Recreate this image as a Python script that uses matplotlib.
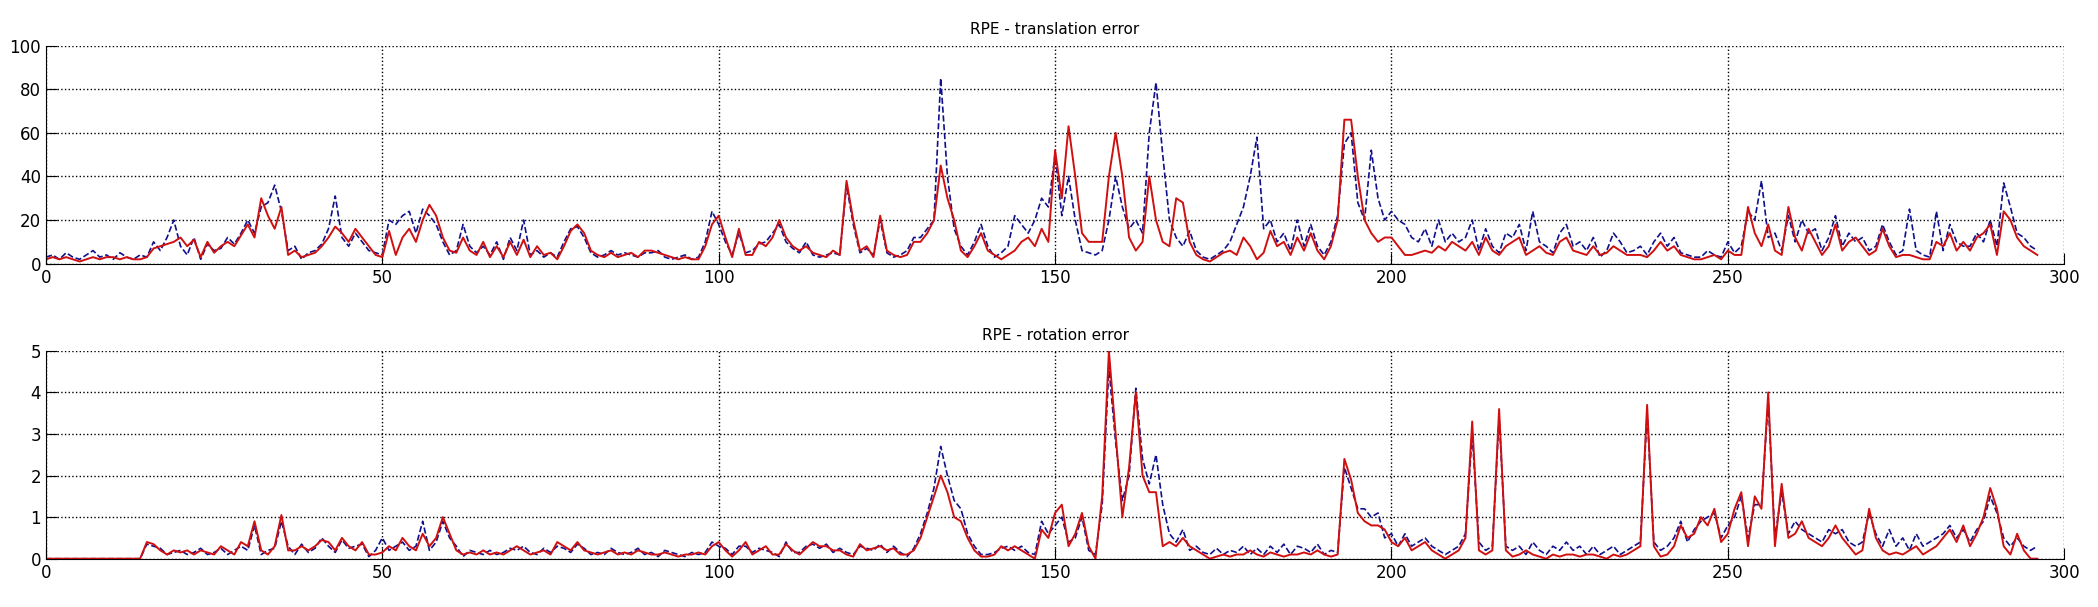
import matplotlib
matplotlib.use("Agg")
import matplotlib.pyplot as plt
import numpy as np

frames = list(range(297))

trans_red = [2,3,2,3,2,1,2,3,2,3,
 3,2,3,2,2,3,7,8,9,10,
 12,8,11,3,10,5,8,10,8,13,
 18,12,30,22,16,26,4,6,3,4,
 5,8,12,17,14,10,16,12,8,4,
 3,15,4,12,16,10,20,27,22,12,
 6,5,12,6,4,10,3,8,3,10,
 4,11,3,8,4,5,2,8,15,18,
 14,6,4,3,5,3,4,5,3,6,
 6,5,4,3,2,3,2,2,8,18,
 22,12,3,16,4,4,10,8,12,20,
 12,8,6,8,5,4,3,6,4,38,
 20,6,8,3,22,6,4,3,4,10,
 10,14,20,45,30,20,6,3,8,14,
 6,4,2,4,6,10,12,8,16,10,
 52,30,63,40,14,10,10,10,40,60,
 40,12,6,10,40,20,10,8,30,28,
 10,4,2,1,3,5,6,4,12,8,
 2,5,15,8,10,4,12,6,14,6,
 2,8,20,66,66,40,20,14,10,12,
 12,8,4,4,5,6,5,8,6,10,
 8,6,10,4,12,6,4,8,10,12,
 4,6,8,5,4,10,12,6,5,4,
 8,4,5,8,6,4,4,4,3,6,
 10,6,8,4,3,2,2,3,4,2,
 6,4,4,26,14,8,18,6,4,26,
 12,6,16,10,4,8,18,6,10,12,
 8,4,6,16,8,3,4,4,3,2,
 2,10,8,14,6,10,6,12,14,18,
 4,24,20,12,8,6,4]

trans_blue = [3,4,2,5,3,2,4,6,3,4,
 2,5,3,2,4,3,10,6,12,20,
 8,4,12,2,9,6,7,12,9,14,
 20,14,26,28,36,24,6,8,2,5,
 6,9,16,31,12,8,14,10,6,5,
 4,20,18,22,24,14,25,22,18,10,
 4,6,18,8,5,8,4,10,2,12,
 6,20,4,6,3,5,3,10,16,17,
 12,5,3,4,6,4,5,4,3,5,
 5,6,3,2,3,4,2,3,10,24,
 18,10,4,14,5,6,9,10,14,18,
 10,7,5,10,4,3,4,5,4,36,
 18,5,7,4,20,5,3,4,6,12,
 12,16,20,85,40,16,8,4,10,18,
 8,3,5,8,22,18,14,20,30,26,
 50,22,40,20,6,5,4,6,20,40,
 26,16,20,14,60,83,50,20,12,8,
 15,6,3,2,4,6,10,18,26,40,
 58,16,20,10,14,6,20,8,18,8,
 4,10,22,55,60,28,20,52,30,20,
 24,20,18,12,10,16,8,20,10,14,
 10,12,20,6,16,8,5,14,12,18,
 6,24,10,8,5,14,18,8,10,6,
 12,3,6,14,10,5,6,8,4,10,
 14,8,12,5,4,3,3,6,4,3,
 10,5,8,24,20,38,12,14,6,22,
 10,20,14,16,6,12,22,8,14,10,
 12,6,8,18,10,4,6,25,6,4,
 3,24,6,18,10,8,8,14,10,20,
 8,37,26,14,12,8,6]

rot_red = [0]*15 + [0.4,0.35,0.2,0.1,0.2,
 0.15,0.2,0.1,0.2,0.15,0.1,0.3,0.2,0.1,0.4,
 0.3,0.9,0.2,0.1,0.3,1.05,0.2,0.2,0.3,0.2,
 0.3,0.45,0.4,0.2,0.5,0.3,0.2,0.4,0.1,0.1,
 0.15,0.3,0.2,0.5,0.3,0.2,0.6,0.3,0.5,1.0,
 0.6,0.2,0.1,0.15,0.1,0.2,0.1,0.15,0.1,0.2,
 0.3,0.2,0.1,0.15,0.2,0.1,0.4,0.3,0.2,0.4,
 0.2,0.15,0.1,0.15,0.2,0.1,0.15,0.1,0.2,0.15,
 0.1,0.1,0.15,0.1,0.05,0.1,0.1,0.15,0.1,0.3,
 0.4,0.2,0.05,0.2,0.4,0.1,0.2,0.3,0.1,0.1,
 0.35,0.2,0.1,0.25,0.4,0.3,0.3,0.2,0.2,0.1,
 0.05,0.35,0.2,0.25,0.3,0.2,0.25,0.1,0.1,0.2,
 0.5,1.0,1.5,2.0,1.6,1.0,0.9,0.5,0.2,0.05,
 0.05,0.1,0.3,0.2,0.3,0.2,0.1,0.0,0.7,0.5,
 1.1,1.3,0.3,0.6,1.1,0.3,0.0,1.5,5.0,3.0,
 1.0,2.2,4.0,2.0,1.6,1.6,0.3,0.4,0.3,0.5,
 0.3,0.2,0.1,0.0,0.05,0.1,0.05,0.1,0.1,0.2,
 0.1,0.05,0.15,0.1,0.05,0.1,0.1,0.15,0.1,0.2,
 0.1,0.05,0.1,2.4,1.9,1.1,0.9,0.8,0.8,0.7,
 0.4,0.3,0.5,0.2,0.3,0.4,0.2,0.1,0.0,0.1,
 0.2,0.5,3.3,0.2,0.1,0.2,3.6,0.2,0.05,0.1,
 0.2,0.1,0.05,0.0,0.1,0.05,0.1,0.1,0.05,0.1,
 0.1,0.05,0.0,0.1,0.05,0.1,0.2,0.3,3.7,0.3,
 0.05,0.1,0.3,0.8,0.5,0.6,1.0,0.8,1.2,0.4,
 0.6,1.2,1.6,0.3,1.5,1.2,4.0,0.3,1.8,0.5,
 0.6,0.9,0.5,0.4,0.3,0.5,0.8,0.5,0.3,0.1,
 0.2,1.2,0.5,0.2,0.1,0.15,0.1,0.2,0.3,0.1,
 0.2,0.3,0.5,0.7,0.4,0.8,0.3,0.6,1.0,1.7,
 1.2,0.3,0.1,0.6,0.2,0.0,0.0]

rot_blue = [0]*15 + [0.35,0.3,0.25,0.1,0.15,
 0.2,0.1,0.15,0.25,0.1,0.15,0.25,0.1,0.2,0.3,
 0.2,0.8,0.1,0.2,0.25,0.9,0.3,0.1,0.35,0.15,
 0.25,0.5,0.3,0.15,0.45,0.25,0.3,0.35,0.05,0.2,
 0.5,0.2,0.3,0.4,0.2,0.3,0.9,0.2,0.4,0.9,
 0.5,0.3,0.05,0.2,0.15,0.1,0.2,0.1,0.15,0.25,
 0.2,0.3,0.15,0.1,0.25,0.15,0.3,0.25,0.15,0.35,
 0.25,0.1,0.15,0.1,0.25,0.15,0.1,0.15,0.25,0.1,
 0.15,0.05,0.2,0.15,0.1,0.05,0.15,0.1,0.15,0.4,
 0.3,0.25,0.1,0.3,0.3,0.15,0.25,0.2,0.15,0.05,
 0.4,0.15,0.15,0.3,0.35,0.25,0.35,0.15,0.25,0.15,
 0.1,0.3,0.25,0.2,0.35,0.15,0.3,0.15,0.05,0.25,
 0.6,1.1,1.7,2.7,2.0,1.4,1.2,0.6,0.3,0.1,
 0.1,0.15,0.25,0.3,0.2,0.3,0.15,0.1,0.9,0.6,
 0.8,1.0,0.4,0.5,1.0,0.2,0.1,1.3,4.6,2.8,
 1.4,2.0,4.1,2.4,1.8,2.5,1.3,0.6,0.4,0.7,
 0.2,0.3,0.15,0.1,0.25,0.1,0.2,0.15,0.3,0.1,
 0.25,0.1,0.3,0.15,0.35,0.1,0.3,0.25,0.15,0.35,
 0.1,0.2,0.15,2.2,1.7,1.2,1.2,1.0,1.1,0.5,
 0.6,0.3,0.6,0.3,0.4,0.5,0.3,0.2,0.1,0.2,
 0.3,0.6,3.0,0.4,0.2,0.3,3.4,0.3,0.2,0.3,
 0.1,0.4,0.2,0.1,0.3,0.2,0.4,0.2,0.3,0.1,
 0.3,0.1,0.2,0.3,0.1,0.2,0.3,0.4,3.5,0.4,
 0.2,0.3,0.5,0.9,0.4,0.7,0.9,1.0,1.1,0.5,
 0.8,1.0,1.5,0.5,1.3,1.3,3.8,0.5,1.6,0.6,
 0.9,0.7,0.6,0.5,0.4,0.7,0.6,0.7,0.4,0.3,
 0.4,1.1,0.6,0.3,0.7,0.3,0.5,0.2,0.6,0.3,
 0.4,0.5,0.6,0.8,0.5,0.7,0.4,0.7,0.9,1.5,
 1.1,0.5,0.3,0.5,0.3,0.2,0.3]

RED = "#d01010"
BLUE = "#10108c"

fig = plt.figure(figsize=(20.98, 6.07), dpi=100)
ax1 = fig.add_axes([0.0219, 0.5656, 0.962, 0.3594])
ax2 = fig.add_axes([0.0219, 0.0796, 0.962, 0.3424])

def style(ax, ymax, yticks, title):
    ax.set_xlim(0, 300)
    ax.set_ylim(0, ymax)
    ax.set_xticks([0, 50, 100, 150, 200, 250, 300])
    ax.set_yticks(yticks)
    ax.grid(True, linestyle=":", color="black", linewidth=1.0)
    ax.tick_params(direction="in", length=8, labelsize=12)
    for s in ("top", "right"):
        ax.spines[s].set_visible(False)
    ax.set_title(title, fontsize=11, pad=8)

ax1.plot(frames, trans_blue, "--", color=BLUE, linewidth=1.2)
ax1.plot(frames, trans_red, "-", color=RED, linewidth=1.4)
style(ax1, 100, [0, 20, 40, 60, 80, 100], "RPE - translation error")

ax2.plot(frames, rot_blue, "--", color=BLUE, linewidth=1.2)
ax2.plot(frames, rot_red, "-", color=RED, linewidth=1.4)
style(ax2, 5, [0, 1, 2, 3, 4, 5], "RPE - rotation error")

fig.savefig("out.png", dpi=100)
